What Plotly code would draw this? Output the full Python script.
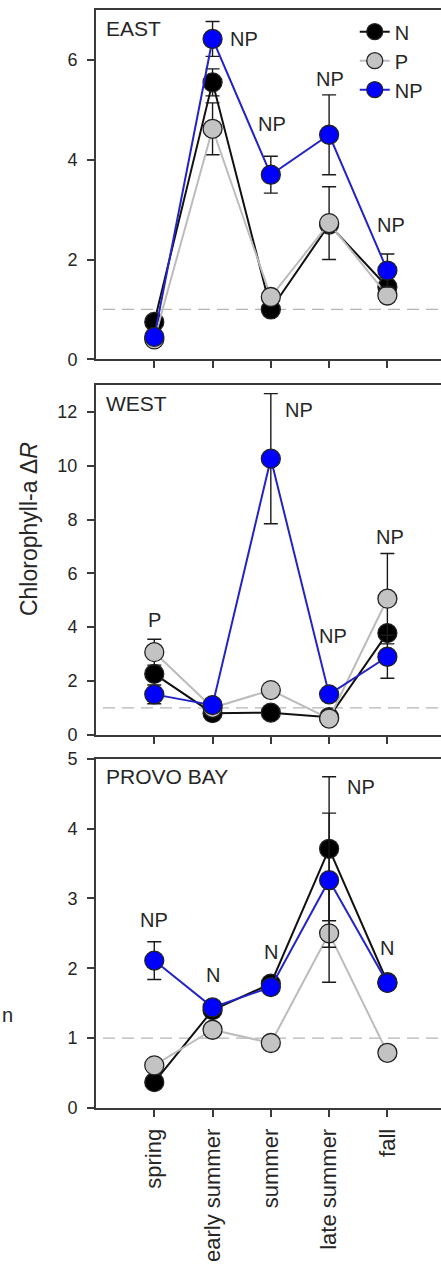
import plotly.graph_objects as go

# Sampling seasons shared by all three sites
seasons = ["spring", "early summer", "summer", "late summer", "fall"]
treatments = ["N", "P", "NP"]

# Chlorophyll-a response ratio (mean) and standard error, per site and treatment
east_n = [0.75, 5.55, 1.00, 2.70, 1.45]
east_p = [0.40, 4.62, 1.25, 2.73, 1.28]
east_np = [0.45, 6.42, 3.70, 4.50, 1.78]
east_n_se = [0, 0.27, 0, 0, 0]
east_p_se = [0, 0.52, 0, 0.73, 0]
east_np_se = [0, 0.35, 0.37, 0.80, 0.33]

west_n = [2.26, 0.80, 0.82, 0.65, 3.78]
west_p = [3.07, 1.00, 1.66, 0.60, 5.06]
west_np = [1.50, 1.10, 10.27, 1.50, 2.90]
west_n_se = [0, 0, 0, 0, 0]
west_p_se = [0.48, 0, 0, 0, 1.68]
west_np_se = [0.35, 0, 2.42, 0, 0.80]

provo_n = [0.37, 1.40, 1.78, 3.71, 1.80]
provo_p = [0.61, 1.12, 0.93, 2.50, 0.79]
provo_np = [2.11, 1.44, 1.73, 3.26, 1.79]
provo_n_se = [0, 0, 0, 1.03, 0]
provo_p_se = [0, 0, 0, 0.70, 0]
provo_np_se = [0.27, 0, 0, 0.96, 0]

site_names = ["EAST", "WEST", "PROVO BAY"]
y_ranges = [[0, 7], [0, 13], [0, 5]]
y_ticks = [[0, 2, 4, 6], [0, 2, 4, 6, 8, 10, 12], [0, 1, 2, 3, 4, 5]]

# Significance labels: (season index, y, text, anchor)
east_sig = [(1.26, 6.42, "NP", "left"), (2.02, 4.72, "NP", "center"),
            (3.01, 5.62, "NP", "center"), (4.06, 2.70, "NP", "center")]
west_sig = [(0.01, 4.26, "P", "center"), (2.21, 12.1, "NP", "left"),
            (3.07, 3.67, "NP", "center"), (4.04, 7.37, "NP", "center")]
provo_sig = [(0.00, 2.69, "NP", "center"), (1.00, 1.90, "N", "center"),
             (2.00, 2.23, "N", "center"), (3.27, 4.59, "NP", "left"),
             (4.00, 2.29, "N", "center")]

sites = [
    (east_n, east_p, east_np, east_n_se, east_p_se, east_np_se, east_sig),
    (west_n, west_p, west_np, west_n_se, west_p_se, west_np_se, west_sig),
    (provo_n, provo_p, provo_np, provo_n_se, provo_p_se, provo_np_se, provo_sig),
]

line_colors = {"N": "#111111", "P": "#bcbcbc", "NP": "#2323c8"}
fill_colors = {"N": "#000000", "P": "#c3c3c3", "NP": "#0000ff"}

FONT = "Liberation Sans, Arial, sans-serif"
TXT = "#262626"

# Panel geometry (fractions of the plotting area, bottom = 0)
domains = [[750 / 1100, 1.0], [374 / 1100, 724 / 1100], [0.0, 350 / 1100]]

fig = go.Figure()
annotations = []
shapes = []

for i, (n, p, np_, n_se, p_se, np_se, sig) in enumerate(sites):
    k = "" if i == 0 else str(i + 1)
    xa, ya = "x" + k, "y" + k
    for name, vals, se in (("N", n, n_se), ("P", p, p_se), ("NP", np_, np_se)):
        fig.add_trace(go.Scatter(
            x=seasons, y=vals, xaxis=xa, yaxis=ya, name=name,
            mode="lines+markers", showlegend=(i == 0), legendgroup=name,
            line=dict(color=line_colors[name], width=2),
            marker=dict(size=19, color=fill_colors[name],
                        line=dict(color="#222222", width=1.3)),
            error_y=dict(type="data", array=se, visible=True,
                         color="#1a1a1a", thickness=1.4, width=7),
        ))

    # reference line at a response ratio of 1
    shapes.append(dict(type="line", xref=xa, yref=ya, x0=-0.88, x1=4.92,
                       y0=1, y1=1, layer="below",
                       line=dict(color="#b5b5b5", width=1.2, dash="12px,7px")))

    annotations.append(dict(text=site_names[i], xref=xa + " domain",
                            yref=ya + " domain", x=0.022, y=0.987,
                            xanchor="left", yanchor="top", showarrow=False,
                            font=dict(family=FONT, size=21, color=TXT)))
    for sx, sy, st, anc in sig:
        annotations.append(dict(text=st, xref=xa, yref=ya, x=sx, y=sy,
                                xanchor=anc, yanchor="middle", showarrow=False,
                                font=dict(family=FONT, size=20, color=TXT)))

    axis_common = dict(showline=True, linecolor="#3a3a3a", linewidth=2,
                       ticks="outside", ticklen=7, tickwidth=1.6,
                       tickcolor="#3a3a3a", showgrid=False, zeroline=False)
    fig.layout["xaxis" + k] = dict(
        axis_common, anchor=ya, domain=[0, 1], type="category",
        range=[-1, 4.92], mirror=True, tickangle=-90,
        showticklabels=(i == 2), ticklabelstandoff=3,
        tickfont=dict(family=FONT, size=22, color=TXT),
        categoryorder="array", categoryarray=seasons)
    fig.layout["yaxis" + k] = dict(
        axis_common, anchor=xa, domain=domains[i], range=y_ranges[i],
        tickvals=y_ticks[i], ticklabelstandoff=6,
        tickfont=dict(family=FONT, size=18, color=TXT))

annotations.append(dict(text="Chlorophyll-a Δ<i>R</i>", xref="paper", yref="paper",
                        x=(29 - 96) / 345, y=(1108 - 528) / 1100, textangle=-90,
                        xanchor="center", yanchor="middle", showarrow=False,
                        font=dict(family=FONT, size=23, color=TXT)))
annotations.append(dict(text="n", xref="paper", yref="paper",
                        x=(0 - 96) / 345, y=(1108 - 1015) / 1100,
                        xanchor="left", yanchor="middle", showarrow=False,
                        font=dict(family=FONT, size=20, color=TXT)))

fig.update_layout(
    width=441, height=1266,
    margin=dict(l=96, r=0, t=8, b=158),
    paper_bgcolor="white", plot_bgcolor="white",
    annotations=annotations, shapes=shapes,
    legend=dict(x=0.75, y=0.998, xanchor="left", yanchor="top",
                bgcolor="rgba(0,0,0,0)", tracegroupgap=0,
                font=dict(family=FONT, size=20, color=TXT)),
)

fig.write_html("out.html")
